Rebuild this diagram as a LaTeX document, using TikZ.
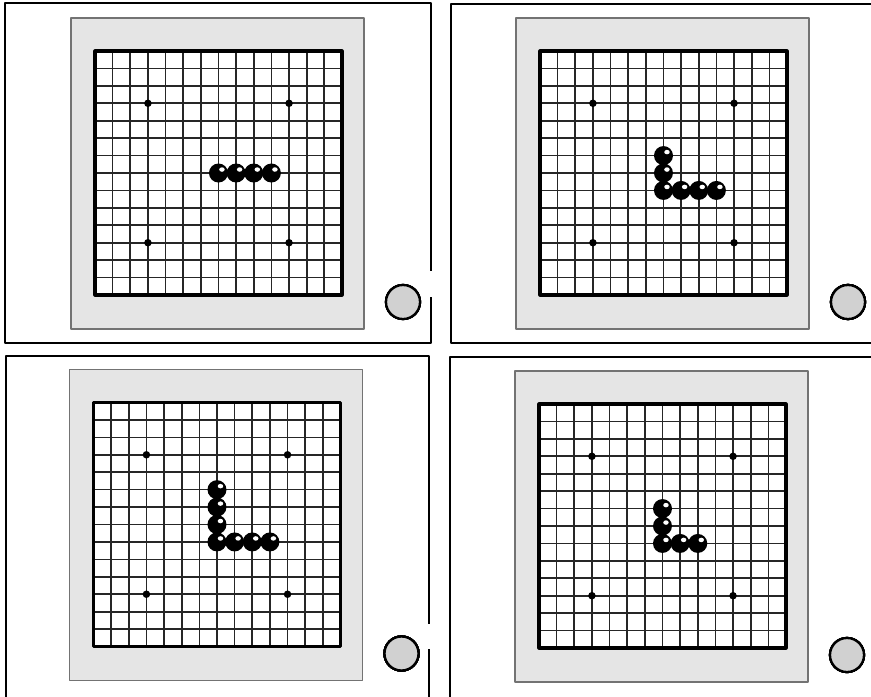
\documentclass[tikz,border=0pt]{standalone}
\usepackage{tikz}

\tikzset{
  panelframe/.style={line width=0.7pt,line cap=rect},
  gridline/.style={black!85,line width=0.95pt},
  boardedge/.style={line width=1.8pt},
  woodarea/.style={fill=black!10,draw=black!55,line width=0.6pt},
  hoshi/.style={fill=black},
  turnmark/.style={fill=black!18,draw=black,line width=1.3pt}
}

% one black stone with its highlight
\newcommand{\gostone}[2]{%
  \fill[black] (95+#1*17.64,51+#2*17.43) circle (0.19cm);
  \fill[white] (98.5+#1*17.64,47.5+#2*17.43) ellipse (0.055cm and 0.045cm);
}

% board of one panel, stones given as col/row
\newcommand{\goboard}[1]{%
  \path[woodarea] (71,18) rectangle (364,329);
  \fill[white] (95,51) rectangle (342,295);
  \foreach \i in {1,...,13} {
    \draw[gridline] (95+\i*17.64,51) -- (95+\i*17.64,295);
    \draw[gridline] (95,51+\i*17.43) -- (342,51+\i*17.43);
  }
  \draw[boardedge] (95,51) rectangle (342,295);
  \foreach \c/\r in {3/3,11/3,3/11,11/11}
    \fill[hoshi] (95+\c*17.64,51+\r*17.43) circle (0.075cm);
  \foreach \c/\r in {#1}
    \gostone{\c}{\r}
  \path[turnmark] (403,302) circle (0.34cm);
}

\begin{document}
\begin{tikzpicture}[x=0.02cm,y=-0.02cm,line join=round]
  \useasboundingbox (0,0) rectangle (871,696);

  % panel frames
  \draw[panelframe] (431,270) -- (431,3) -- (5,3) -- (5,343) -- (431,343) -- (431,298);
  \draw[panelframe] (871,4) -- (451,4) -- (451,343) -- (871,343);
  \draw[panelframe] (429,623) -- (429,356) -- (6,356) -- (6,696);
  \draw[panelframe] (429,650) -- (429,696);
  \draw[panelframe] (871,357) -- (450,357) -- (450,696);

  % the four positions
  \begin{scope}
    \goboard{7/7,8/7,9/7,10/7}
  \end{scope}
  \begin{scope}[shift={(445,0)}]
    \goboard{7/6,7/7,7/8,8/8,9/8,10/8}
  \end{scope}
  \begin{scope}[shift={(-1.5,351.5)}]
    \goboard{7/5,7/6,7/7,7/8,8/8,9/8,10/8}
  \end{scope}
  \begin{scope}[shift={(444,353)}]
    \goboard{7/6,7/7,7/8,8/8,9/8}
  \end{scope}
\end{tikzpicture}
\end{document}
